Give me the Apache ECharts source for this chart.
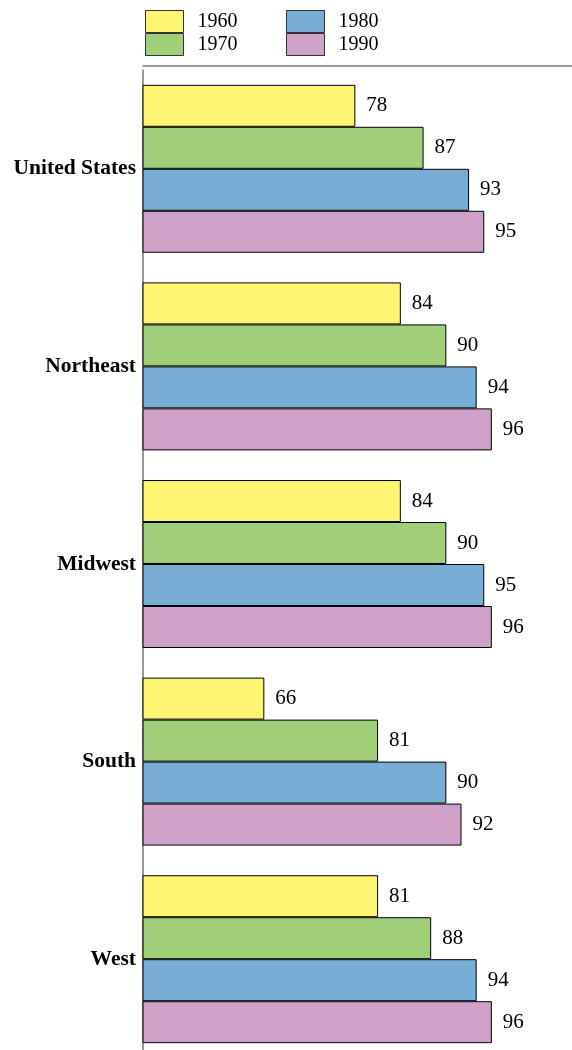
<!DOCTYPE html>
<html>
<head>
	<meta charset="utf-8">
	<title>Bars by region</title>
	<script src="https://cdn.jsdelivr.net/npm/echarts@6/dist/echarts.min.js"></script>
	<style>
		html, body { margin: 0; padding: 0; background: #fff; }
		#chart { width: 572px; height: 1050px; }
	</style>
</head>
<body>
<div id="chart"></div>
<script>
	var regions = ['United States', 'Northeast', 'Midwest', 'South', 'West'];
	var years = ['1960', '1970', '1980', '1990'];
	var v1960 = [78, 84, 84, 66, 81];
	var v1970 = [87, 90, 90, 81, 88];
	var v1980 = [93, 94, 95, 90, 94];
	var v1990 = [95, 96, 96, 92, 96];
	var colors = ['#fff571', '#9fcf78', '#78aed6', '#d0a1c8'];

	var serif = '"Liberation Serif", "DejaVu Serif", serif';
	var values = [v1960, v1970, v1980, v1990];

	var series = years.map(function (y, i) {
		return {
			name: y,
			type: 'bar',
			data: values[i],
			barGap: '0%',
			barCategoryGap: '15%',
			itemStyle: { color: colors[i], borderColor: '#000', borderWidth: 1 },
			label: {
				show: true,
				position: 'right',
				distance: 11,
				color: '#000',
				fontFamily: serif,
				fontSize: 21
			}
		};
	});

	function legendAt(left, names) {
		return {
			orient: 'vertical',
			left: left,
			top: 10,
			padding: 0,
			icon: 'rect',
			itemWidth: 38,
			itemHeight: 22,
			itemGap: 0,
			data: names,
			itemStyle: { borderColor: '#333', borderWidth: 1 },
			textStyle: { fontFamily: serif, fontSize: 20, lineHeight: 22, color: '#000', padding: [0, 0, 0, 9] }
		};
	}

	var myChart = echarts.init(document.getElementById('chart'));
	var option = {
		animation: false,
		legend: [legendAt(145, ['1960', '1970']), legendAt(286, ['1980', '1990'])],
		grid: { left: 143, top: 70, width: 455, height: 988, outerBoundsMode: 'none', containLabel: false },
		xAxis: {
			type: 'value',
			position: 'top',
			offset: 4,
			min: 50,
			max: 110,
			axisLine: { show: true, lineStyle: { color: '#777', width: 1.5 } },
			axisTick: { show: false },
			axisLabel: { show: false },
			splitLine: { show: false }
		},
		yAxis: {
			type: 'category',
			inverse: true,
			data: regions,
			axisLine: { show: true, lineStyle: { color: '#777', width: 1.5 } },
			axisTick: { show: false },
			axisLabel: {
				margin: 7,
				fontFamily: serif,
				fontWeight: 'bold',
				fontSize: 21.5,
				color: '#000'
			}
		},
		series: series
	};
	option && myChart.setOption(option);
</script>
</body>
</html>
